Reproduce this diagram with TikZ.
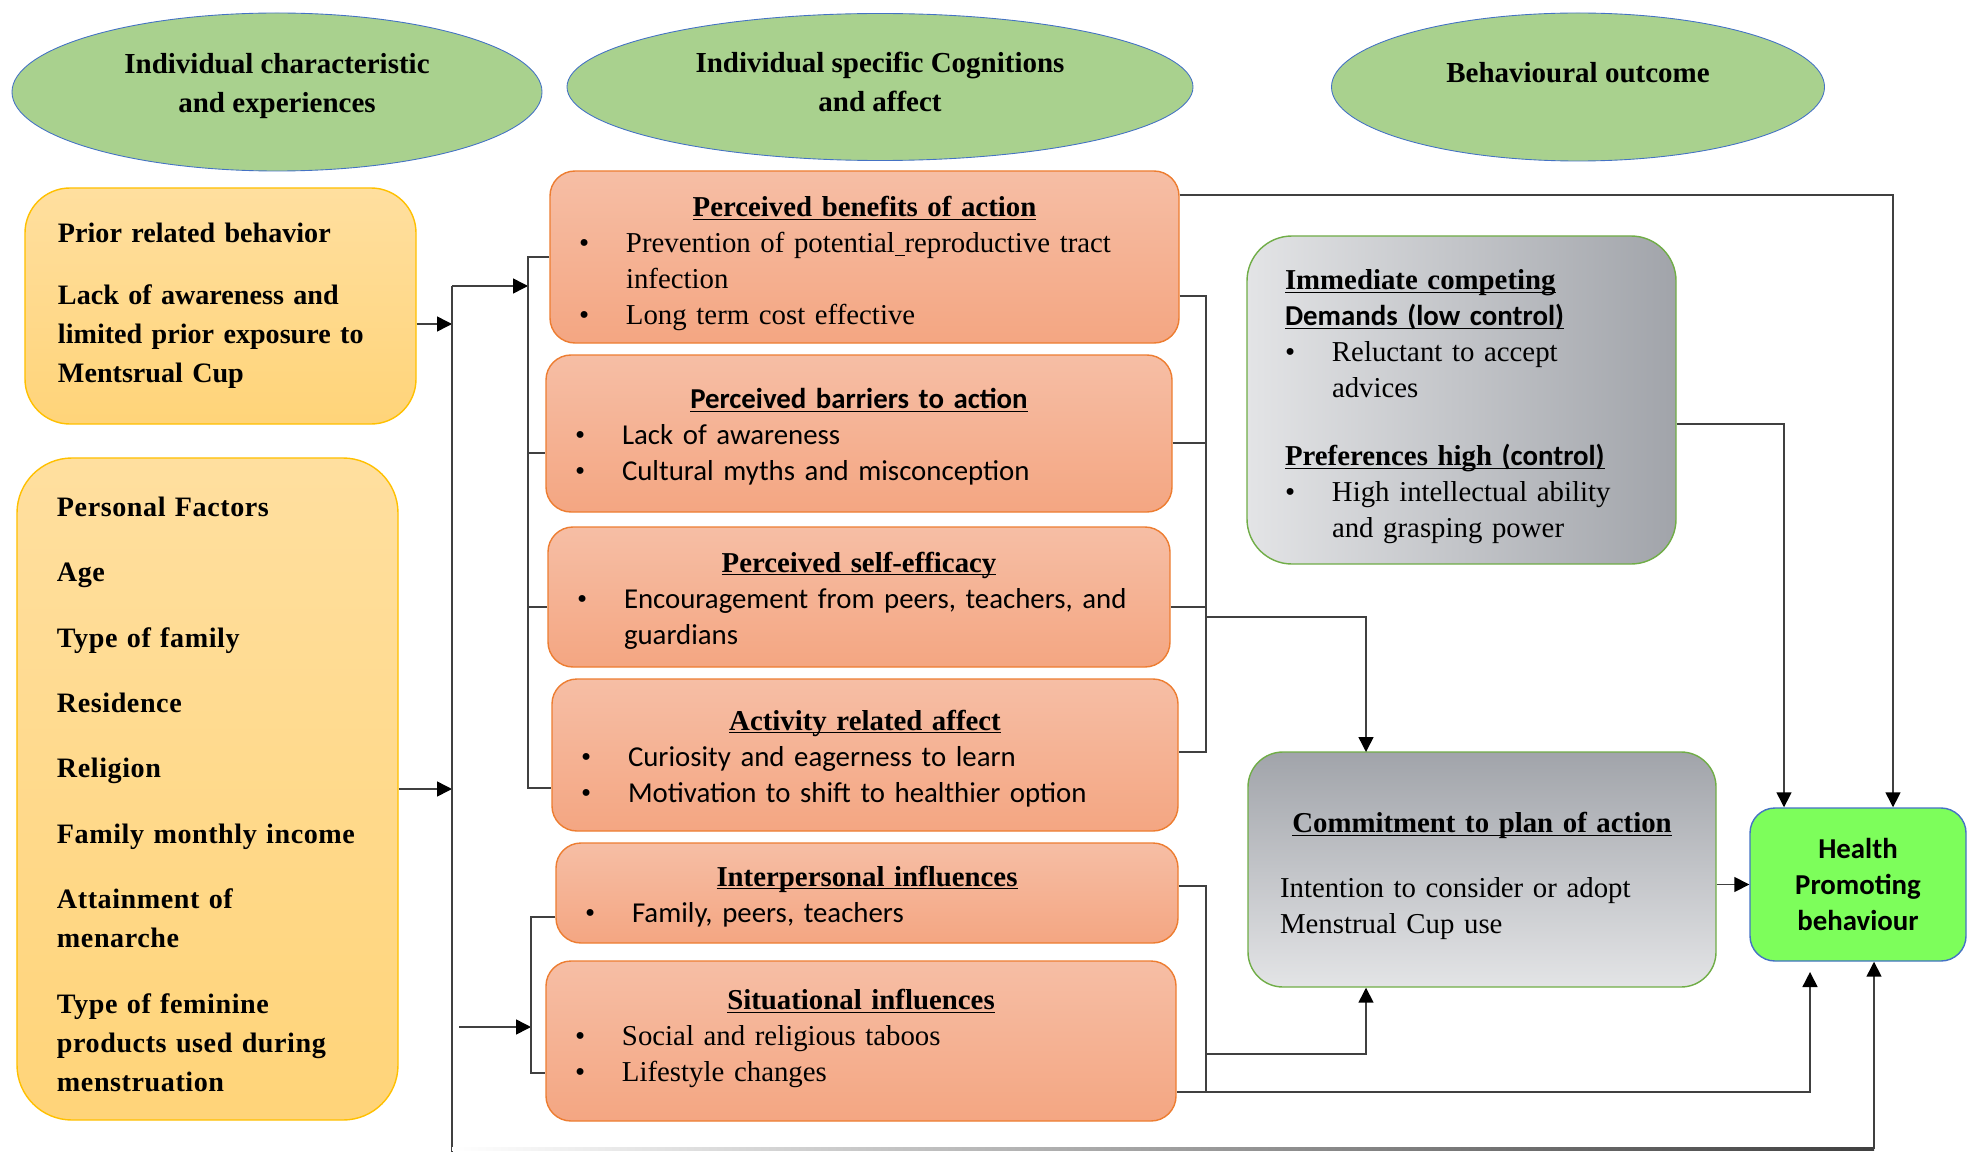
\documentclass[tikz,border=0pt]{standalone}
\usepackage{fontspec}
\setmainfont{Liberation Serif}
\newfontfamily\calfont{Carlito}
\usepackage{tikz}
\usetikzlibrary{shapes.geometric,arrows.meta}

\definecolor{hdrgreen}{HTML}{A9D18E}
\definecolor{hdrblue}{HTML}{4472C4}
\definecolor{yeltop}{HTML}{FFDF9F}
\definecolor{yelbot}{HTML}{FFD479}
\definecolor{yelline}{HTML}{FFC000}
\definecolor{cogtop}{HTML}{F6BEA5}
\definecolor{cogbot}{HTML}{F4A682}
\definecolor{cogline}{HTML}{ED7D31}
\definecolor{greylight}{HTML}{E3E4E6}
\definecolor{greydark}{HTML}{A1A4AA}
\definecolor{boxgreen}{HTML}{70AD47}
\definecolor{hpbfill}{HTML}{7DFE5B}
\definecolor{linegray}{HTML}{404040}

\setlength{\parindent}{0pt}
\newcommand{\ttl}[2][5.4mm]{\underline{\smash{\textbf{#2}}\rule{0pt}{#1}}}
\newcommand{\bitem}[2][5.8mm]{\par\hangindent=\dimexpr#1+9.4mm\relax\hangafter=1\noindent\hspace*{#1}\makebox[9.4mm][l]{\rmfamily\textbullet}#2}
\newcommand{\citem}[2][5.8mm]{\bitem[#1]{{\calfont #2}}}

\begin{document}
\begin{tikzpicture}[x=0.2mm, y=-0.2mm,
  txt/.style={font=\fontsize{16.4}{20.5}\selectfont},
  hdr/.style={ellipse, draw=hdrblue, line width=0.5pt, fill=hdrgreen, inner sep=0pt},
  hdrtext/.style={font=\fontsize{16.5}{22.2}\selectfont\bfseries, align=center},
  yelbox/.style={rounded corners=9mm, draw=yelline, line width=0.8pt, top color=yeltop, bottom color=yelbot,
    inner sep=0pt, align=left, font=\fontsize{16}{22.2}\selectfont\bfseries},
  cogbox/.style={rounded corners=5mm, draw=cogline, line width=0.8pt, top color=cogtop, bottom color=cogbot,
    inner sep=0pt, align=left, txt},
  greybox/.style={draw=boxgreen, line width=0.8pt, inner sep=0pt, align=left, txt},
  conn/.style={draw=linegray, line width=0.3mm},
  arr/.style={conn, -{Triangle[length=3mm, width=3mm, color=black]}}]

  \useasboundingbox (0,0) rectangle (1967,1152);

  \node[hdr, minimum width=106mm, minimum height=31.6mm,
    label={[hdrtext, yshift=1.1mm]center:Individual characteristic\\ and experiences}] (ell1) at (277,92) {};
  \node[hdr, minimum width=125.2mm, minimum height=29.4mm,
    label={[hdrtext, yshift=1.1mm]center:Individual specific Cognitions\\ and affect}] (ell2) at (880,87) {};
  \node[hdr, minimum width=98.6mm, minimum height=29.6mm,
    label={[hdrtext, yshift=2.8mm]center:Behavioural outcome}] (ell3) at (1578,87) {};

  \node[yelbox, text width=78.2mm, minimum height=47.2mm] (prior) at (220.5,306)
    {\leftskip=6.6mm Prior related behavior\\[13pt] Lack of awareness and\\ limited prior exposure to\\ Mentsrual Cup\par};
  \node[yelbox, rounded corners=11mm, text width=76.2mm, minimum height=132.4mm,
    font=\fontsize{16}{22.2}\selectfont\bfseries\addfontfeature{LetterSpace=2}] (personal) at (207.5,789)
    {\leftskip=8mm Personal Factors\rule{0pt}{6mm}\\[15pt] Age\\[15pt] Type of family\\[15pt] Residence\\[15pt]
     Religion\\[15pt] Family monthly income\\[15pt] Attainment of\\ menarche\\[15pt]
     Type of feminine\\ products used during\\ menstruation\par};

  \node[cogbox, text width=125.8mm, minimum height=34.4mm] (ben) at (864.5,257)
    {\makebox[\hsize]{\ttl[6.8mm]{Perceived benefits of action}}
     \bitem{Prevention of potential\underline{\ }reproductive tract\newline infection}
     \bitem{Long term cost effective}\par};
  \node[cogbox, text width=125.2mm, minimum height=31.4mm] (bar) at (859,433.5)
    {\makebox[\hsize]{\calfont\ttl{Perceived barriers to action}}
     \citem{Lack of awareness}
     \citem{Cultural myths and misconception}\par};
  \node[cogbox, text width=124.4mm, minimum height=28mm] (eff) at (859,597)
    {\makebox[\hsize]{\ttl{Perceived self-efficacy}}
     \citem{Encouragement from peers, teachers, and\newline guardians}\par};
  \node[cogbox, text width=125.2mm, minimum height=30.4mm] (act) at (865,755)
    {\makebox[\hsize]{\ttl{Activity related affect}}
     \citem{Curiosity and eagerness to learn}
     \citem{Motivation to shift to healthier option}\par};
  \node[cogbox, text width=124.4mm, minimum height=20mm] (inter) at (867,893)
    {\makebox[\hsize]{\ttl{Interpersonal influences}}
     \citem{Family, peers, teachers}\par};
  \node[cogbox, text width=126mm, minimum height=32mm] (sit) at (861,1041)
    {\makebox[\hsize]{\ttl[3.2mm]{Situational influences}}
     \bitem{Social and religious taboos}
     \bitem{Lifestyle changes}\par};

  \node[greybox, rounded corners=9mm, left color=greylight, right color=greydark,
    text width=85.8mm, minimum height=65.6mm] (imm) at (1461.5,400)
    {\leftskip=7.6mm \ttl[6.8mm]{Immediate competing}\newline{\calfont\ttl{Demands (low control)}}
     \bitem[0mm]{Reluctant to accept\newline advices}\par\vspace{6.4mm}
     \ttl{Preferences high {\calfont (control)}}
     \bitem[0mm]{High intellectual ability\newline and grasping power}\par};
  \node[greybox, rounded corners=7mm, top color=greydark, bottom color=greylight,
    text width=93.6mm, minimum height=47mm] (com) at (1482,869.5)
    {\makebox[\hsize]{\ttl[6.6mm]{Commitment to plan of action}}\par\vspace{5.8mm}
     \leftskip=6.4mm Intention to consider or adopt\newline Menstrual Cup use\par};
  \node[rounded corners=5mm, draw=hdrblue, line width=0.8pt, fill=hpbfill, inner sep=0pt, align=center,
    text width=43.2mm, minimum height=30.6mm, font=\calfont\bfseries\fontsize{16.4}{20.5}\selectfont]
    (hpb) at (1858,884.5) {Health\\ Promoting\\ behaviour};

  \coordinate (tkTop) at (452,286);
  \coordinate (tkBot) at (452,1152);
  \coordinate (tkPri) at (452,324);
  \coordinate (tkSit) at (459,1027);
  \coordinate (lbA) at (528,257);
  \coordinate (lbB) at (528,453);
  \coordinate (lbC) at (528,607);
  \coordinate (lbD) at (528,788);
  \coordinate (lbE) at (531,917);
  \coordinate (lbF) at (531,1073);
  \coordinate (rbA) at (1206,296);
  \coordinate (rbB) at (1206,443);
  \coordinate (rbC) at (1206,607);
  \coordinate (rbD) at (1206,752);
  \coordinate (rbOut) at (1206,617);
  \coordinate (rbE) at (1206,886);
  \coordinate (rbF) at (1206,1092);
  \coordinate (rbG) at (1206,1054);
  \coordinate (comIn) at (1366,752);
  \coordinate (topRun) at (1893,195);
  \coordinate (immRun) at (1784,424);
  \coordinate (hpbLow) at (1810,972);
  \coordinate (hpbBot) at (1874,1149);

  \draw[arr] (prior.east |- tkPri) -- (tkPri);
  \draw[arr] (personal.east) -- (personal.east -| tkTop);
  \draw[conn] (tkTop) -- (tkBot);
  \shade[left color=white, middle color=white, right color=linegray] (452,1147.5) rectangle (hpbBot |- 0,1150.5);
  \draw[arr] (hpbBot) -- (hpbBot |- hpb.south);
  \draw[arr] (tkTop) -- (tkTop -| lbA);
  \draw[conn] (ben.west |- lbA) -- (lbA) -- (lbD) -- (act.west |- lbD);
  \draw[conn] (lbB) -- (bar.west |- lbB);
  \draw[conn] (lbC) -- (eff.west |- lbC);
  \draw[arr] (tkSit) -- (tkSit -| lbE);
  \draw[conn] (inter.west |- lbE) -- (lbE) -- (lbF) -- (sit.west |- lbF);

  \draw[conn] (ben.east |- rbA) -- (rbA) -- (rbD) -- (act.east |- rbD);
  \draw[conn] (bar.east |- rbB) -- (rbB);
  \draw[conn] (eff.east |- rbC) -- (rbC);
  \draw[arr] (rbOut) -| (comIn);
  \draw[conn] (inter.east |- rbE) -- (rbE) -- (rbF) -- (sit.east |- rbF);
  \draw[arr] (rbG) -| (com.south -| comIn);
  \draw[arr] (rbF) -| (hpbLow);

  \draw[arr] (ben.east |- topRun) -- (topRun) -- (topRun |- hpb.north);
  \draw[arr] (imm.east |- immRun) -- (immRun) -- (immRun |- hpb.north);
  \draw[arr] (com.east |- hpb.west) -- (hpb.west);
\end{tikzpicture}
\end{document}
